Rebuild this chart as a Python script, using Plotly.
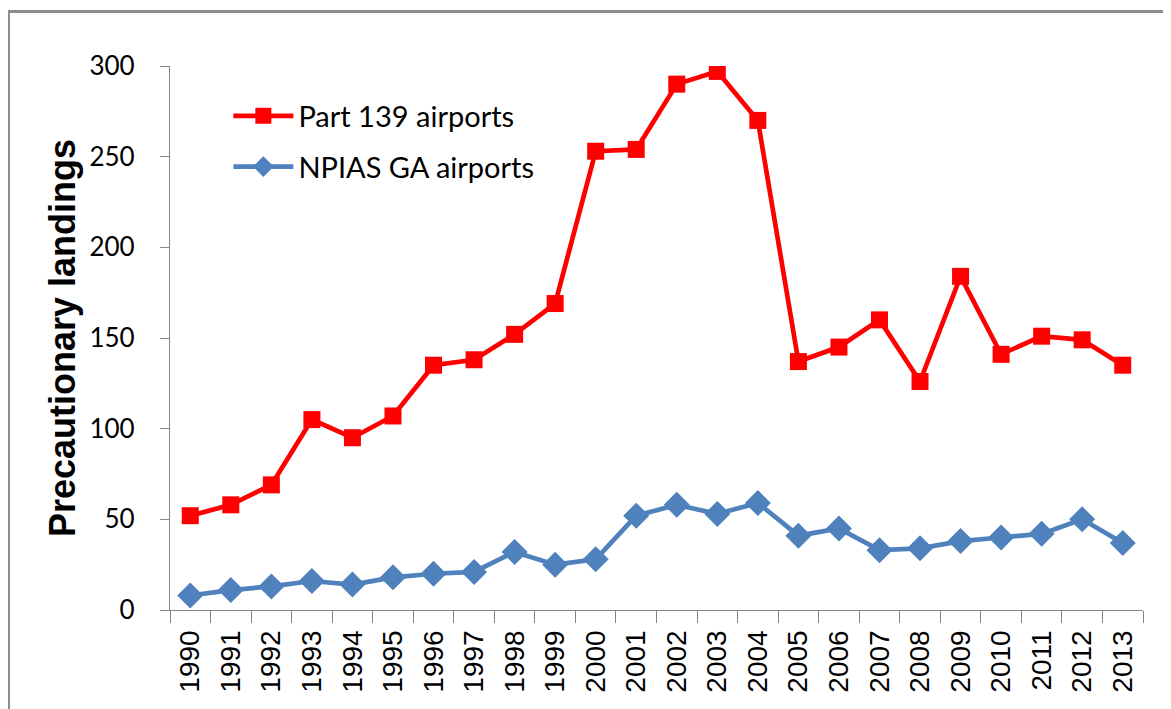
import plotly.graph_objects as go

years = [str(y) for y in range(1990, 2014)]
part139 = [52, 58, 69, 105, 95, 107, 135, 138, 152, 169, 253, 254, 290, 297, 270,
           137, 145, 160, 126, 184, 141, 151, 149, 135]
npias_ga = [8, 11, 13, 16, 14, 18, 20, 21, 32, 25, 28, 52, 58, 53, 59,
            41, 45, 33, 34, 38, 40, 42, 50, 37]
y_ticks = [0, 50, 100, 150, 200, 250, 300]

fig = go.Figure()
fig.add_trace(go.Scatter(
    x=years, y=part139, name="Part 139 airports", mode="lines+markers",
    line=dict(color="#FF0000", width=4.7),
    marker=dict(symbol="square", size=17, color="#FF0000"),
    legendgroup="a",
))
fig.add_trace(go.Scatter(
    x=years, y=npias_ga, name="NPIAS GA airports", mode="lines+markers",
    line=dict(color="#4F81BD", width=4.7),
    marker=dict(symbol="diamond", size=20, color="#4F81BD"),
    legendgroup="b",
))

axis_gray = "#868686"
fig.update_layout(
    width=1171, height=709,
    margin=dict(l=162, r=36, t=58, b=107, autoexpand=False),
    paper_bgcolor="white", plot_bgcolor="white",
    showlegend=True,
    legend=dict(
        x=0.06, y=0.955, xanchor="left", yanchor="top",
        font=dict(family="Lato", size=29, color="#000000"),
        bgcolor="rgba(0,0,0,0)", itemwidth=60, tracegroupgap=10,
    ),
    xaxis=dict(
        type="category", showgrid=False, zeroline=False,
        showline=True, linecolor=axis_gray, linewidth=1.3,
        ticks="outside", tickson="boundaries", ticklen=12, tickcolor=axis_gray,
        tickwidth=1.3, tickangle=-90, ticklabelstandoff=8,
        tickfont=dict(family="Liberation Sans", size=28, color="#000000"),
        range=[-0.5, 23.5],
    ),
    yaxis=dict(
        range=[0, 300], tickvals=y_ticks, showgrid=False, zeroline=False,
        showline=True, linecolor=axis_gray, linewidth=1.3,
        ticks="outside", ticklen=9, tickcolor=axis_gray, tickwidth=1.3,
        tickfont=dict(family="Lato", size=26, color="#000000"),
        ticklabelstandoff=20,
        title=dict(text="<b>Precautionary landings</b>",
                   font=dict(family="Liberation Sans", size=36, color="#000000"),
                   standoff=2),
    ),
    shapes=[dict(
        type="path", xref="paper", yref="paper",
        path="M -0.166 -0.4 L -0.166 1.1 L 1.1 1.1",
        line=dict(color="#8C8C8C", width=3),
    )],
)

fig.write_html("out.html")
